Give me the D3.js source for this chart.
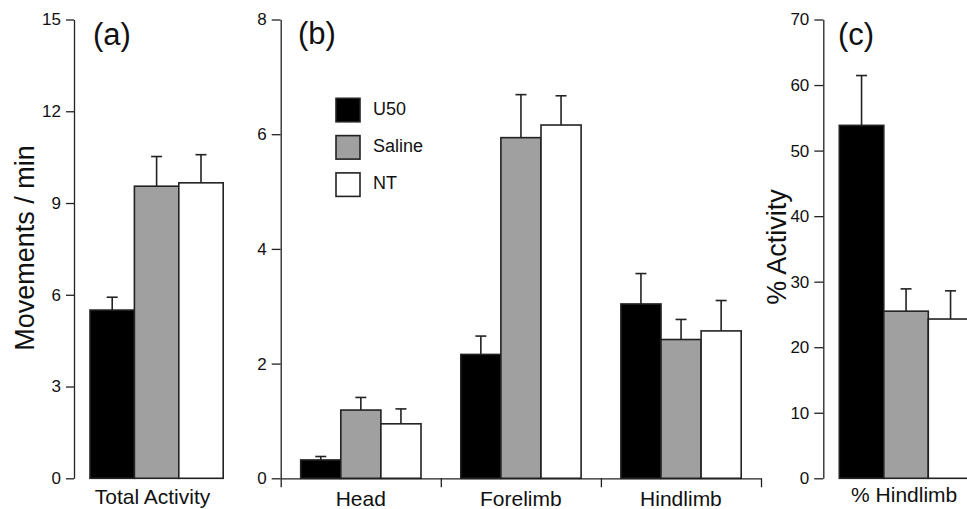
<!DOCTYPE html>
<html>
<head>
<meta charset="utf-8">
<script src="https://cdn.jsdelivr.net/npm/d3@7"></script>
<style>
  body { margin: 0; background: #fff; }
  svg { display: block; font-family: "Liberation Sans", Arial, Helvetica, sans-serif; }
</style>
</head>
<body>
<div id="chart"></div>
<script>
// groups shown in every panel
var groups = ["U50", "Saline", "NT"];
var fills = ["#000000", "#a0a0a0", "#ffffff"];

// (a) total activity, movements / min
var totalCats = ["Total Activity"];
var totalMeans = [5.5, 9.55, 9.66];
var totalErrs = [0.42, 0.97, 0.92];
var totalTicks = [0, 3, 6, 9, 12, 15];

// (b) per body region, movements / min
var regionCats = ["Head", "Forelimb", "Hindlimb"];
var u50Region = [0.32, 2.16, 3.04];
var u50RegionErr = [0.06, 0.32, 0.53];
var salineRegion = [1.19, 5.94, 2.42];
var salineRegionErr = [0.22, 0.75, 0.35];
var ntRegion = [0.95, 6.16, 2.57];
var ntRegionErr = [0.26, 0.51, 0.53];
var regionTicks = [0, 2, 4, 6, 8];

// (c) % of activity that is hindlimb
var hindCats = ["% Hindlimb"];
var hindMeans = [53.85, 25.5, 24.3];
var hindErrs = [7.6, 3.4, 4.3];
var hindTicks = [0, 10, 20, 30, 40, 50, 60, 70];

var width = 967,
	height = 509,
	y0 = 478.3,
	yTop = 19.5;

var svg = d3.select("#chart")
	.append("svg")
	.attr("width", width)
	.attr("height", height);

function toRows(cats, means, errs) {
	// means / errs are per group, each an array over cats
	var rows = [];
	cats.forEach(function(c, ci) {
		groups.forEach(function(g, gi) {
			rows.push({cat: c, group: g, value: means[gi][ci], err: errs[gi][ci]});
		});
	});
	return rows;
}

function panel(p) {
	var g = svg.append("g");

	var y = d3.scaleLinear()
		.domain([0, d3.max(p.ticks)])
		.range([y0, yTop]);

	var x0 = d3.scaleBand()
		.domain(p.cats)
		.range([p.axisX, p.endX]);

	var x1 = d3.scaleBand()
		.domain(groups)
		.range([p.padL, p.padL + 3 * p.barW]);

	var color = d3.scaleOrdinal().domain(groups).range(fills);

	// bars
	var bar = g.selectAll(".bar")
		.data(p.rows)
		.enter().append("g")
		.attr("class", "bar");

	bar.append("line")
		.attr("x1", function(d) { return x0(d.cat) + x1(d.group) + x1.bandwidth() / 2; })
		.attr("x2", function(d) { return x0(d.cat) + x1(d.group) + x1.bandwidth() / 2; })
		.attr("y1", function(d) { return y(d.value); })
		.attr("y2", function(d) { return y(d.value + d.err); })
		.attr("stroke", "#222")
		.attr("stroke-width", 1.6);

	bar.append("line")
		.attr("x1", function(d) { return x0(d.cat) + x1(d.group) + x1.bandwidth() / 2 - 5.5; })
		.attr("x2", function(d) { return x0(d.cat) + x1(d.group) + x1.bandwidth() / 2 + 5.5; })
		.attr("y1", function(d) { return y(d.value + d.err); })
		.attr("y2", function(d) { return y(d.value + d.err); })
		.attr("stroke", "#222")
		.attr("stroke-width", 1.6);

	bar.append("rect")
		.attr("x", function(d) { return x0(d.cat) + x1(d.group); })
		.attr("y", function(d) { return y(d.value); })
		.attr("width", x1.bandwidth())
		.attr("height", function(d) { return y0 - y(d.value); })
		.attr("fill", function(d) { return color(d.group); })
		.attr("stroke", "#222")
		.attr("stroke-width", 1.6);

	// y axis
	var yAxis = g.append("g")
		.attr("transform", "translate(" + p.axisX + ",0)")
		.call(d3.axisLeft(y).tickValues(p.ticks).tickSize(p.tick).tickSizeOuter(0).tickPadding(5));
	yAxis.selectAll("line, path").attr("stroke", "#222").attr("stroke-width", 1.3);
	yAxis.selectAll("text").style("font-size", "17px").attr("fill", "#111").attr("font-family", null);

	// x axis line with boundary ticks (panel b only)
	if (p.xLine) {
		var xb = d3.scaleLinear().domain([0, p.cats.length]).range([p.axisX, p.endX]);
		var xAxis = g.append("g")
			.attr("transform", "translate(0," + y0 + ")")
			.call(d3.axisBottom(xb).tickValues(d3.range(p.cats.length + 1)).tickSize(9).tickSizeOuter(0).tickFormat(""));
		xAxis.selectAll("line, path").attr("stroke", "#222").attr("stroke-width", 1.3);
	}

	// category labels
	var labels = g.append("g")
		.attr("transform", "translate(0," + y0 + ")")
		.call(d3.axisBottom(x0).tickSize(0).tickPadding(p.labelPad));
	labels.select(".domain").remove();
	labels.selectAll("text").style("font-size", "21px").attr("fill", "#111").attr("font-family", null);

	// panel letter
	g.append("text")
		.attr("x", p.letterX)
		.attr("y", p.letterY)
		.style("font-size", "31px")
		.attr("fill", "#111")
		.text(p.letter);

	if (p.title) {
		g.append("text")
			.attr("transform", "translate(" + p.titleX + "," + p.titleY + ") rotate(-90)")
			.attr("text-anchor", "middle")
			.style("font-size", "27px")
			.attr("fill", "#111")
			.text(p.title);
	}
	return g;
}

panel({
	cats: totalCats,
	rows: toRows(totalCats, [[totalMeans[0]], [totalMeans[1]], [totalMeans[2]]],
		[[totalErrs[0]], [totalErrs[1]], [totalErrs[2]]]),
	ticks: totalTicks, axisX: 74, endX: 231, padL: 16, barW: 44.4, tick: 8,
	labelPad: 10.5, letter: "(a)", letterX: 93, letterY: 45,
	title: "Movements / min", titleX: 34, titleY: 248
});

var pb = panel({
	cats: regionCats,
	rows: toRows(regionCats, [u50Region, salineRegion, ntRegion],
		[u50RegionErr, salineRegionErr, ntRegionErr]),
	ticks: regionTicks, axisX: 280.7, endX: 761, padL: 20, barW: 40.1, tick: 9, xLine: true,
	labelPad: 13, letter: "(b)", letterX: 298, letterY: 44
});

panel({
	cats: hindCats,
	rows: toRows(hindCats, [[hindMeans[0]], [hindMeans[1]], [hindMeans[2]]],
		[[hindErrs[0]], [hindErrs[1]], [hindErrs[2]]]),
	ticks: hindTicks, axisX: 823.3, endX: 985, padL: 16, barW: 44.5, tick: 9,
	labelPad: 8.5, letter: "(c)", letterX: 838, letterY: 45,
	title: "% Activity", titleX: 786, titleY: 247
});

// legend inside panel (b)
var legend = pb.selectAll(".legend")
	.data(groups)
	.enter().append("g")
	.attr("class", "legend")
	.attr("transform", function(d, i) { return "translate(336," + (98.3 + i * 37.3) + ")"; });

legend.append("rect")
	.attr("width", 24)
	.attr("height", 23.5)
	.attr("fill", function(d, i) { return fills[i]; })
	.attr("stroke", "#222")
	.attr("stroke-width", 1.6);

legend.append("text")
	.attr("x", 37)
	.attr("y", 16.3)
	.style("font-size", "18px")
	.attr("fill", "#111")
	.text(function(d) { return d; });
</script>
</body>
</html>
